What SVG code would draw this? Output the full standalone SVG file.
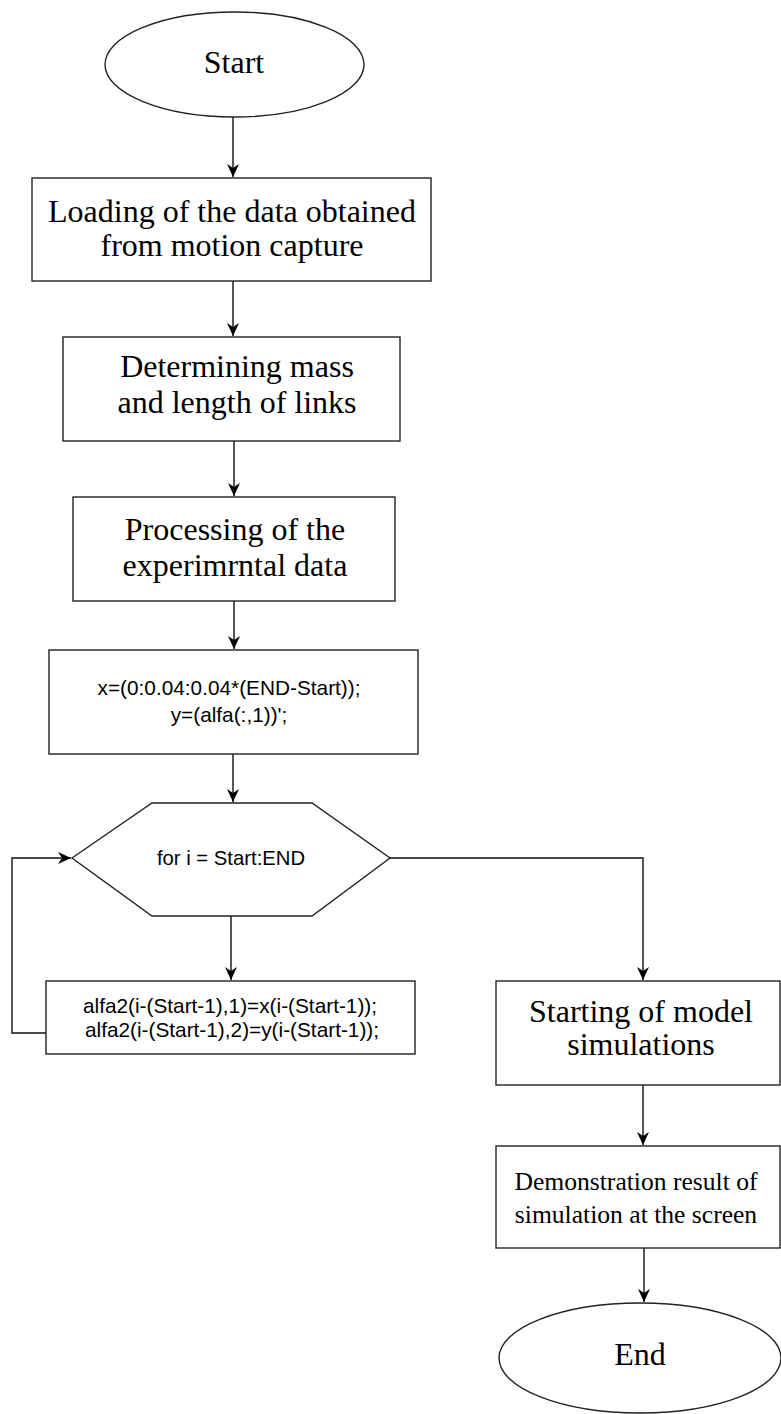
<svg xmlns="http://www.w3.org/2000/svg" width="781" height="1414" viewBox="0 0 781 1414">
<defs>
<style>
.shape{fill:#fff;stroke:#222;stroke-width:1.4}
.conn{fill:none;stroke:#111;stroke-width:1.4}
.serif{font-family:"Liberation Serif","Times New Roman",serif;fill:#000;text-anchor:middle;font-size:32px}
.small{font-size:25.6px}
.sans{font-family:"Liberation Sans",Arial,sans-serif;fill:#000;text-anchor:middle;font-size:20.8px}
.hex{font-size:20.3px}
</style>
<marker id="arr" markerUnits="userSpaceOnUse" markerWidth="14" markerHeight="14" refX="13" refY="7" orient="auto">
<path d="M0,1 L13,7 L0,13 L4,7 Z" fill="#000"/>
</marker>
</defs>
<rect width="781" height="1414" fill="#fff"/>
<g id="connectors">
<path class="conn" d="M233,117 V177" marker-end="url(#arr)"/>
<path class="conn" d="M233,281 V336" marker-end="url(#arr)"/>
<path class="conn" d="M234,441 V496" marker-end="url(#arr)"/>
<path class="conn" d="M234,601 V649" marker-end="url(#arr)"/>
<path class="conn" d="M233,754 V802" marker-end="url(#arr)"/>
<path class="conn" d="M231,916 V980" marker-end="url(#arr)"/>
<path class="conn" d="M46,1033 H12 V858 H71" marker-end="url(#arr)"/>
<path class="conn" d="M390,858 H643 V980" marker-end="url(#arr)"/>
<path class="conn" d="M643,1085 V1145" marker-end="url(#arr)"/>
<path class="conn" d="M644,1248 V1302" marker-end="url(#arr)"/>
</g>
<g id="start">
<ellipse class="shape" cx="234.5" cy="64.5" rx="129.5" ry="52.5"/>
<text class="serif" x="234" y="73">Start</text>
</g>
<g id="load">
<rect class="shape" x="32" y="178" width="399" height="103"/>
<text class="serif" x="232" y="222">Loading of the data obtained</text>
<text class="serif" x="232" y="256">from motion capture</text>
</g>
<g id="mass">
<rect class="shape" x="63" y="337" width="337" height="104"/>
<text class="serif" x="237" y="377">Determining mass</text>
<text class="serif" x="237" y="413">and length of links</text>
</g>
<g id="process">
<rect class="shape" x="73" y="497" width="322" height="104"/>
<text class="serif" x="235" y="540">Processing of the</text>
<text class="serif" x="235" y="576">experimrntal data</text>
</g>
<g id="xy">
<rect class="shape" x="49" y="650" width="369" height="104"/>
<text class="sans" x="229" y="695">x=(0:0.04:0.04*(END-Start));</text>
<text class="sans" x="229" y="722">y=(alfa(:,1))';</text>
</g>
<g id="loop">
<polygon class="shape" points="72,858 152,803 312,803 390,858 312,916 152,916"/>
<text class="sans hex" x="231" y="865">for i = Start:END</text>
</g>
<g id="alfa2">
<rect class="shape" x="46" y="981" width="369" height="73"/>
<text class="sans" x="230" y="1013">alfa2(i-(Start-1),1)=x(i-(Start-1));</text>
<text class="sans" x="232" y="1037">alfa2(i-(Start-1),2)=y(i-(Start-1));</text>
</g>
<g id="simulate">
<rect class="shape" x="496" y="981" width="284" height="104"/>
<text class="serif" x="641" y="1022">Starting of model</text>
<text class="serif" x="641" y="1055">simulations</text>
</g>
<g id="demo">
<rect class="shape" x="496" y="1146" width="284" height="102"/>
<text class="serif small" x="636" y="1190">Demonstration result of</text>
<text class="serif small" x="636" y="1223">simulation at the screen</text>
</g>
<g id="end">
<ellipse class="shape" cx="640" cy="1358" rx="141" ry="55"/>
<text class="serif" x="640" y="1365">End</text>
</g>
</svg>
